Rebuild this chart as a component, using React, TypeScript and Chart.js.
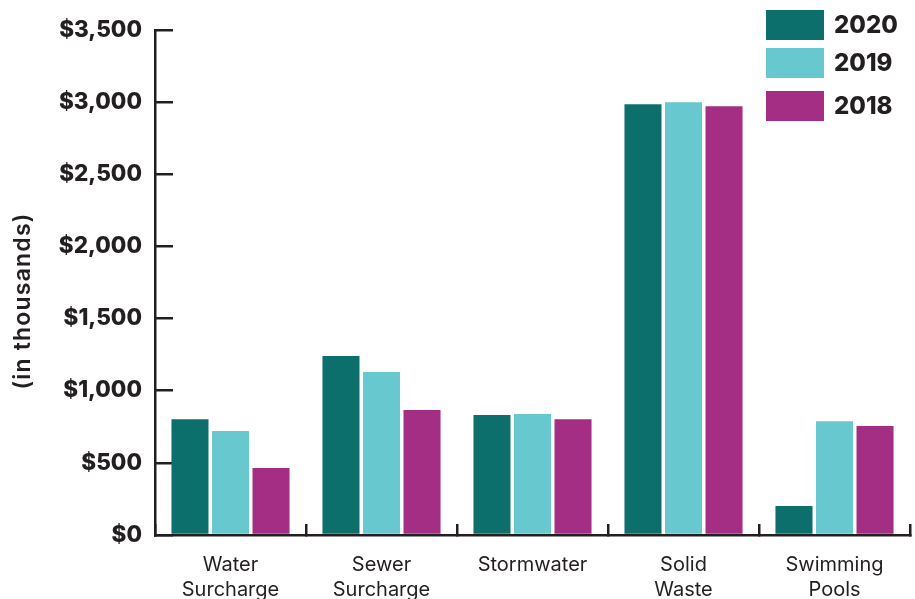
import React, { useEffect, useRef } from 'react';
import { Chart, registerables } from 'chart.js';

Chart.register(...registerables);

const categories = [
  ['Water', 'Surcharge'],
  ['Sewer', 'Surcharge'],
  ['Stormwater'],
  ['Solid', 'Waste'],
  ['Swimming', 'Pools'],
];
const seriesLabels = ['2020', '2019', '2018'];
const values2020 = [803, 1240, 831, 2985, 201];
const values2019 = [720, 1129, 838, 2999, 789];
const values2018 = [464, 866, 803, 2971, 755];
const yMin = 0;
const yMax = 3500;
const yStep = 500;
const yTitle = '(in thousands)';

const COLORS = ['#0c6f6b', '#68c8cf', '#a42e83'];
const INK = '#231f20';
const FONT = 'Inter, "Open Sans", sans-serif';

const overlayPlugin = {
  id: 'overlay',
  afterDraw(chart: any) {
    const ctx = chart.ctx;
    ctx.save();
    // y-axis title
    ctx.fillStyle = INK;
    ctx.font = `600 23px ${FONT}`;
    try { (ctx as any).letterSpacing = '1.2px'; } catch (e) {}
    ctx.textAlign = 'center';
    ctx.textBaseline = 'middle';
    ctx.translate(23, 301);
    ctx.rotate(-Math.PI / 2);
    ctx.fillText(yTitle, 0, 0);
    ctx.restore();

    // legend
    ctx.save();
    const tops = [10, 48, 91];
    chart.data.datasets.forEach((ds: any, i: number) => {
      ctx.fillStyle = ds.backgroundColor;
      ctx.fillRect(766, tops[i], 58, 30);
      ctx.fillStyle = INK;
      ctx.font = `800 24px ${FONT}`;
      ctx.textAlign = 'left';
      ctx.textBaseline = 'middle';
      ctx.fillText(ds.label, 834, tops[i] + 16);
    });
    ctx.restore();
  },
};

export default function App() {
  const ref = useRef<HTMLCanvasElement>(null);
  useEffect(() => {
    if (!ref.current) return;
    const chart = new Chart(ref.current, {
      type: 'bar',
      data: {
        labels: categories as any,
        datasets: [values2020, values2019, values2018].map((v, i) => ({
          label: seriesLabels[i],
          data: v,
          backgroundColor: COLORS[i],
          borderWidth: 0,
          categoryPercentage: 0.805,
          barPercentage: 0.914,
        })),
      },
      options: {
        animation: false,
        responsive: true,
        maintainAspectRatio: false,
        layout: { padding: { top: 30, right: 5, left: 0, bottom: 0 } },
        plugins: { legend: { display: false }, tooltip: { enabled: false } },
        scales: {
          x: {
            afterFit: (s: any) => { s.height = 64; },
            grid: {
              drawOnChartArea: false,
              drawTicks: true,
              tickLength: -11,
              offset: true,
              color: INK,
              lineWidth: 2.5,
            },
            border: { display: true, color: INK, width: 2.5 },
            ticks: {
              color: INK,
              padding: 28,
              font: { family: FONT, size: 20, weight: 'normal', lineHeight: 1.25 },
              maxRotation: 0,
              autoSkip: false,
            },
          },
          y: {
            min: yMin,
            max: yMax,
            afterFit: (s: any) => {
              s.width = 155;
              s.paddingTop = 0;
              s.paddingBottom = 0;
            },
            grid: {
              drawOnChartArea: false,
              drawTicks: true,
              tickLength: -18,
              color: INK,
              lineWidth: 2.5,
            },
            border: { display: true, color: INK, width: 2.5 },
            ticks: {
              stepSize: yStep,
              color: INK,
              padding: 31,
              font: { family: FONT, size: 22.5, weight: '800' },
              callback: (v: any) => '$' + Number(v).toLocaleString('en-US'),
            },
          },
        },
      },
      plugins: [overlayPlugin],
    });
    return () => chart.destroy();
  }, []);
  return (
    <div style={{ position: 'absolute', left: 0, top: 0, width: 915, height: 599, background: '#fff' }}>
      <canvas ref={ref} />
    </div>
  );
}
